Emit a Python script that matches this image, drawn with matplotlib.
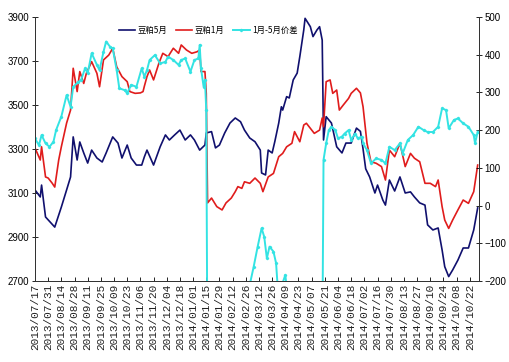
import numpy as np
import matplotlib
matplotlib.use('Agg')
import matplotlib.pyplot as plt

plt.rcParams['font.family'] = ['Noto Sans CJK SC', 'DejaVu Sans']

# tick labels (every 10 trading days)
date_labels = ['2013/07/17', '2013/07/31', '2013/08/14', '2013/08/28', '2013/09/11', '2013/09/25',
               '2013/10/09', '2013/10/23', '2013/11/06', '2013/11/20', '2013/12/04', '2013/12/18',
               '2014/01/01', '2014/01/15', '2014/01/29', '2014/02/12', '2014/02/26', '2014/03/12',
               '2014/03/26', '2014/04/09', '2014/04/23', '2014/05/07', '2014/05/21', '2014/06/04',
               '2014/06/18', '2014/07/02', '2014/07/16', '2014/07/30', '2014/08/13', '2014/08/27',
               '2014/09/10', '2014/09/24', '2014/10/08', '2014/10/22']

# 豆粕5月 (trading day index, price)
may_day = [0, 4, 5, 8, 15, 20, 24, 27, 29, 32, 34, 37, 40, 43, 47, 51, 54, 59, 63, 66, 70, 73, 77, 81,
           83, 85, 90, 95, 99, 102, 106, 110, 114, 118, 121, 125, 129, 130, 134, 137, 140, 144, 148,
           152, 156, 159, 163, 167, 171, 172, 175, 177, 180, 182, 185, 187, 188, 191, 193, 196, 199,
           201, 204, 205, 209, 211, 214, 216, 218, 219, 221, 225, 229, 233, 236, 240, 244, 247, 249,
           251, 254, 258, 260, 264, 266, 269, 273, 277, 281, 285, 288, 292, 296, 298, 302, 306, 309,
           311, 314, 317, 321, 325, 329, 333, 336]
may_val = [3114, 3082, 3136, 2991, 2945, 3036, 3114, 3173, 3355, 3250, 3332, 3282, 3236, 3295, 3259,
           3241, 3282, 3355, 3327, 3259, 3318, 3259, 3227, 3227, 3264, 3295, 3227, 3310, 3364, 3341,
           3364, 3386, 3341, 3364, 3341, 3295, 3318, 3373, 3379, 3305, 3318, 3373, 3418, 3441, 3424,
           3386, 3350, 3333, 3295, 3191, 3182, 3295, 3282, 3333, 3418, 3492, 3477, 3538, 3532, 3614,
           3645, 3720, 3841, 3894, 3856, 3811, 3841, 3856, 3795, 3341, 3447, 3418, 3310, 3282, 3327,
           3327, 3395, 3380, 3300, 3210, 3173, 3100, 3136, 3068, 3045, 3159, 3109, 3173, 3100, 3105,
           3082, 3055, 3045, 2955, 2932, 2941, 2841, 2765, 2720, 2750, 2795, 2850, 2850, 2932, 3032]

# 豆粕1月
jan_day = [0, 4, 5, 8, 10, 13, 15, 18, 20, 24, 27, 29, 32, 34, 37, 39, 43, 47, 49, 52, 56, 59, 62, 66,
           70, 72, 76, 80, 82, 83, 85, 87, 90, 94, 97, 101, 105, 109, 111, 115, 119, 123, 125, 126,
           129, 130, 131, 134, 138, 142, 145, 149, 152, 154, 157, 159, 163, 167, 171, 173, 177, 181,
           185, 188, 191, 195, 197, 201, 204, 206, 209, 212, 216, 218, 219, 221, 224, 226, 229, 231,
           234, 238, 240, 244, 247, 249, 252, 255, 259, 263, 266, 269, 273, 277, 281, 285, 288, 292,
           296, 300, 304, 306, 309, 311, 314, 317, 321, 325, 329, 333, 336]
jan_val = [3305, 3250, 3310, 3173, 3168, 3145, 3127, 3250, 3310, 3418, 3477, 3667, 3561, 3652, 3598,
           3644, 3697, 3644, 3583, 3705, 3727, 3758, 3674, 3629, 3606, 3561, 3553, 3555, 3561, 3585,
           3629, 3659, 3614, 3689, 3735, 3720, 3758, 3735, 3773, 3750, 3735, 3742, 3750, 3652, 3652,
           3553, 3055, 3077, 3038, 3023, 3055, 3077, 3106, 3129, 3121, 3151, 3144, 3168, 3144, 3106,
           3173, 3189, 3265, 3280, 3310, 3326, 3379, 3333, 3409, 3417, 3394, 3371, 3386, 3441, 3401,
           3606, 3614, 3553, 3568, 3477, 3500, 3530, 3553, 3576, 3555, 3492, 3326, 3242, 3235, 3220,
           3159, 3295, 3265, 3326, 3220, 3280, 3258, 3242, 3144, 3144, 3129, 3159, 3038, 2977, 2939,
           2977, 3023, 3068, 3053, 3106, 3227]

# 1月-5月价差 (right axis)
spread_day = [0, 3, 5, 8, 11, 14, 16, 20, 24, 27, 29, 33, 35, 38, 40, 43, 47, 49, 52, 54, 57, 59, 62,
              64, 68, 70, 73, 77, 81, 83, 85, 87, 91, 95, 99, 101, 105, 109, 111, 114, 118, 121, 124,
              125, 126, 128, 129, 130, 131, 145, 160, 163, 166, 169, 172, 174, 176, 178, 181, 183, 184,
              187, 190, 191, 200, 218, 219, 221, 223, 225, 228, 230, 233, 235, 238, 240, 243, 245, 248,
              249, 252, 255, 259, 263, 266, 269, 273, 277, 279, 283, 287, 291, 295, 298, 302, 306, 309,
              312, 314, 318, 321, 325, 329, 333, 334, 336]
spread_val = [178, 160, 187, 165, 156, 169, 200, 236, 293, 262, 315, 328, 333, 364, 351, 404, 373, 359,
              408, 435, 421, 417, 359, 311, 306, 298, 320, 315, 364, 342, 359, 386, 399, 377, 381, 395,
              386, 373, 386, 390, 355, 386, 390, 426, 364, 315, 333, 253, -500, -480, -420, -210, -162,
              -109, -60, -83, -140, -109, -122, -153, -205, -215, -184, -215, -400, -420, 121, 165, 200,
              209, 200, 178, 183, 191, 200, 174, 191, 178, 183, 165, 147, 112, 125, 121, 112, 156, 147,
              165, 138, 174, 187, 209, 200, 195, 195, 209, 258, 253, 205, 227, 231, 218, 209, 187, 165,
              196]

fig = plt.figure(figsize=(5.10, 3.62), dpi=100)
ax = fig.add_axes([0.0686, 0.2238, 0.8706, 0.7292])
ax2 = ax.twinx()

l1, = ax.plot(may_day, may_val, color='#10106e', lw=1.2, label='豆粕5月')
l2, = ax.plot(jan_day, jan_val, color='#e01c1c', lw=1.2, label='豆粕1月')
l3, = ax2.plot(spread_day, spread_val, color='#33e3e3', lw=1.4, marker='D', markersize=1.2,
               label='1月-5月价差')

ax.set_xlim(0, 337)
ax.set_ylim(2700, 3900)
ax.set_yticks(np.arange(2700, 3901, 200))
ax2.set_ylim(-200, 500)
ax2.set_yticks(np.arange(-200, 501, 100))

ax.set_xticks(np.arange(0, 331, 10))
ax.set_xticklabels(date_labels, rotation=90, family=['Liberation Mono', 'DejaVu Sans'], fontsize=8,
                   color='#222222')
ax.tick_params(axis='x', direction='in', length=3, pad=2, width=0.6)
ax.tick_params(axis='y', direction='inout', length=4, width=0.6, labelsize=7, pad=2)
ax2.tick_params(axis='y', direction='inout', length=4, width=0.6, labelsize=7, pad=2)
for lab in ax.get_yticklabels() + ax2.get_yticklabels():
    lab.set_family(['Liberation Sans Narrow', 'Liberation Sans'])

for a in (ax, ax2):
    a.spines['top'].set_visible(False)
    for s in ('left', 'right', 'bottom'):
        a.spines[s].set_linewidth(0.7)
        a.spines[s].set_color('#333333')

leg = ax.legend(handles=[l1, l2, l3], loc='center', bbox_to_anchor=(0.39, 0.95), ncol=3,
                frameon=False, fontsize=6, handlelength=2.0, handletextpad=0.3, columnspacing=1.0)

fig.savefig('out.png', dpi=100)
